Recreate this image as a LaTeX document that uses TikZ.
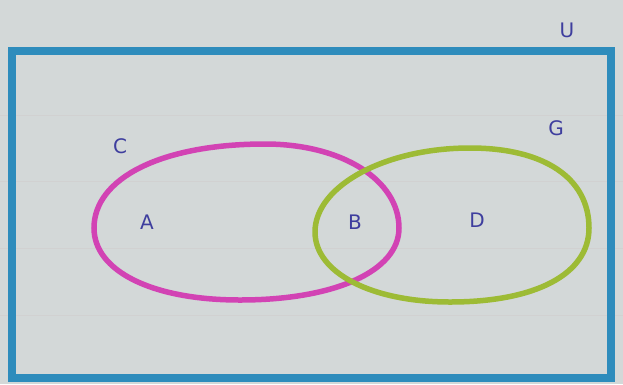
\documentclass[tikz,border=0pt]{standalone}
\usepackage{fontspec}
\setmainfont{DejaVu Sans}
\begin{document}
\begin{tikzpicture}[x=1pt,y=-1pt,
  paperline/.style={draw=black!18,line width=0.8pt},
  setlabel/.style={text=labelc,font=\fontsize{20}{24}\selectfont},
  ring/.style={line width=5.5pt}]
\definecolor{paper}{HTML}{D3D8D8}
\definecolor{frame}{HTML}{2E8CBC}
\definecolor{pinkc}{HTML}{D243B4}
\definecolor{greenc}{HTML}{9DBB35}
\definecolor{labelc}{HTML}{3E3E9E}
\fill[paper] (0,0) rectangle (623,384);
\useasboundingbox (0,0) rectangle (623,384);
\foreach \yy in {115,181,248,315} \draw[paperline] (0,\yy) -- (623,\yy);
\draw[frame,line width=8pt] (12,51) rectangle (611,378);
% set C
\draw[pinkc,ring] (265,144) .. controls (162,144) and (94,178) .. (94,228)
  .. controls (94,271) and (152,300) .. (240,300)
  .. controls (335,300) and (399,271) .. (399,228)
  .. controls (399,180) and (342,144) .. (265,144) -- cycle;
% set G
\draw[greenc,ring] (470,148) .. controls (385,148) and (315,186) .. (315,232)
  .. controls (315,273) and (372,302) .. (450,302)
  .. controls (536,302) and (589,274) .. (589,228)
  .. controls (589,178) and (544,148) .. (470,148) -- cycle;
\node[setlabel] (lu) at (567,30) {U};
\node[setlabel] (lc) at (120,146) {C};
\node[setlabel] (lg) at (556,128) {G};
\node[setlabel] (la) at (147,222) {A};
\node[setlabel] (lb) at (355,222) {B};
\node[setlabel] (ld) at (477,220) {D};
\end{tikzpicture}
\end{document}
